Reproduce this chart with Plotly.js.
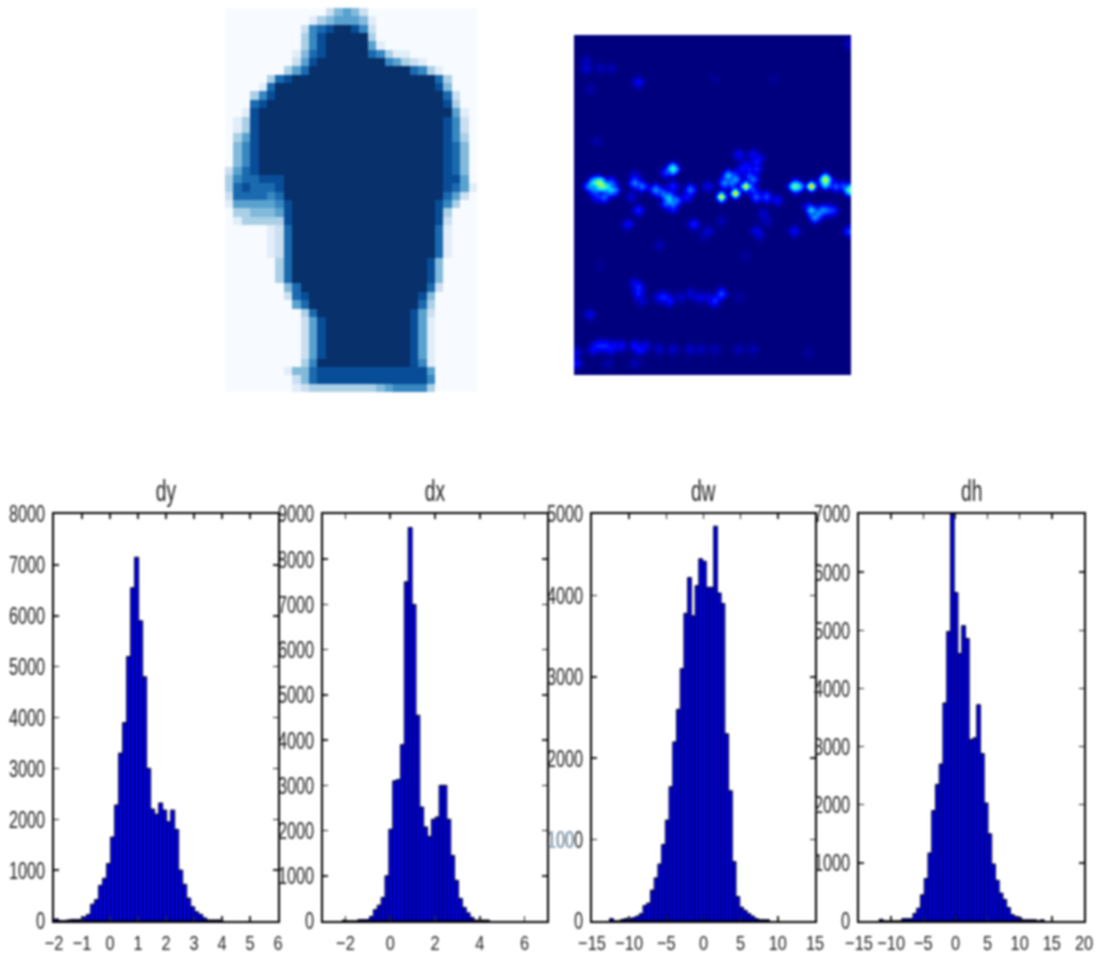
<!DOCTYPE html>
<html><head><meta charset="utf-8">
<script src="https://cdn.plot.ly/plotly-3.0.1.min.js"></script>
<style>html,body{margin:0;padding:0;background:#fff}#g{width:1099px;height:956px;filter:blur(0.8px)}</style>
</head><body><div id="g"></div>
<script>
// ---- silhouette image (Blues), one digit per cell, 0..9
const silhouetteRows = [
"000000000000245420000000000000",
"000000000013455541000000000000",
"000000000267899862000000000000",
"000000000368999993000000000000",
"000000000368999995100000000000",
"000000001478999997631100000000",
"000000002589999999965321000000",
"000000035799999999999976310000",
"000003789999999999999999973000",
"000017999999999999999999984000",
"000368999999999999999999997200",
"000789999999999999999999998300",
"001899999999999999999999999510",
"013899999999999999999999998620",
"013899999999999999999999998620",
"035899999999999999999999998630",
"046899999999999999999999998740",
"046899999999999999999999998740",
"046899999999999999999999998740",
"257899999999999999999999998740",
"367788899999999999999999998850",
"378777899999999999999999998751",
"277776799999999999999999997520",
"155555689999999999999999986300",
"033444589999999999999999983000",
"013333389999999999999999982000",
"000001279999999999999999971000",
"000001279999999999999999971000",
"000001279999999999999999971000",
"000001279999999999999999971000",
"000000379999999999999999840000",
"000000379999999999999999840000",
"000000379999999999999999840000",
"000000047999999999999999720000",
"000000027899999999999998400000",
"000000005799999999999997300000",
"000000000379999999999985200000",
"000000000258999999999985100000",
"000000000258999999999985100000",
"000000000258999999999985100000",
"000000000258999999999985100000",
"000000000258999999999985100000",
"000000000369999999999986100000",
"000000014478888888888888500000",
"000000002478888888888888600000",
"000000001233333333456666300000"
];
// ---- activation map (jet), sparse hot cells on an 80 x 98 grid
const mapCols = 80, mapRows = 98;
const spotCol = [7,5,8,10,11,4,8,6,10,17,19,17,18,15,16,23,26,28,27,26,25,28,33,32,34,38,28,38,
42,46,49,44,43,46,51,50,52,47,51,52,51,55,58,54,63,64,68,72,72,75,77,79,68,69,72,67,63,79,52,42,55,
18,18,19,25,27,33,36,40,42,4,6,8,11,17,19,24,28,33,36,40,47,51,0,0,17,9,47,
18,3,3,7,10,4,6,40,57,79,24,49,7,67,53,37,
6,7,9,9,6,5,27,28,29,26,46,45,48,49,52,50,53,70,73,74,71,
7,9,10,13,5,18,20,18,17,24,26,38,39,41,30,35];
const spotRow = [42,42,43,44,44,43,46,46,42,42,43,40,50,54,46,44,39,38,47,46,45,43,44,46,54,43,49,56,
46,45,43,40,42,40,41,40,36,34,34,46,44,46,47,51,43,43,43,41,42,43,43,44,50,52,50,49,56,56,56,53,53,
72,74,76,75,76,74,75,76,74,80,89,89,89,89,90,90,90,90,90,90,90,90,94,91,94,94,75,
13,9,7,9,9,15,30,12,12,2,60,63,66,91,57,57,
42,43,43,44,44,44,46,48,47,48,41,42,38,37,38,38,35,51,50,50,50,
89,89,90,89,90,90,89,73,71,75,75,75,76,75,75,75];
const spotVal = [.6,.42,.52,.38,.3,.3,.25,.15,.25,.28,.25,.1,.15,.12,.08,.3,.18,.5,.35,.3,.25,.15,.25,.14,.15,.1,.2,.08,
.8,.78,.8,.35,.3,.2,.25,.2,.15,.12,.12,.22,.2,.2,.12,.08,.5,.45,.82,.62,.5,.22,.2,.55,.35,.3,.25,.15,.12,.2,.1,.05,.06,
.16,.15,.08,.16,.14,.08,.1,.18,.2,.1,.15,.16,.13,.14,.12,.07,.07,.07,.06,.05,.05,.05,.13,.1,.05,.04,.03,
.12,.08,.06,.05,.05,.04,.04,.02,.02,.08,.05,.03,.02,.03,.08,.05,
.55,.5,.4,.3,.28,.25,.32,.28,.25,.22,.3,.28,.14,.13,.16,.14,.1,.3,.2,.18,.28,
.16,.15,.13,.13,.12,.13,.1,.14,.1,.12,.14,.09,.1,.12,.07,.08];
// ---- histograms
const dyStart = -1.98, dyWidth = 0.143;
const dyCounts = [40,5,5,20,30,30,30,80,130,330,420,700,840,1130,1650,2280,3300,3900,5200,6550,7150,5900,4800,3000,2200,2100,2320,2180,1950,2180,1800,1000,720,450,280,180,130,60,20,20,20,20];
const dxStart = -2.13, dxWidth = 0.1726;
const dxCounts = [20,0,0,0,30,30,30,100,250,350,520,1000,2030,3100,3130,3900,7500,8700,7000,4550,2520,2080,1870,2250,2300,3000,3000,2250,1450,900,500,300,180,80,20,20,20,20];
const dwStart = -12.63, dwWidth = 0.5;
const dwCounts = [30,0,0,20,30,30,40,60,90,190,220,380,530,700,940,1240,1650,2200,2600,3100,3780,4220,3750,4120,4450,4420,4100,4100,4850,4030,3900,2300,1600,730,300,170,130,90,60,30,15,15,15];
const dhStart = -11.85, dhWidth = 0.583;
const dhCounts = [30,0,0,0,0,0,40,40,40,130,220,450,730,1170,1900,2350,2700,3750,4980,7000,5650,4600,5080,4860,3120,3150,3720,2880,2030,1500,980,700,480,370,230,110,80,60,20,20,20,20,0,20];
const panelTitles = ["dy","dx","dw","dh"];
const dyTicksX = [-2,-1,0,1,2,3,4,5,6], dyTicksY = [0,1000,2000,3000,4000,5000,6000,7000,8000];
const dxTicksX = [-2,0,2,4,6], dxTicksY = [0,1000,2000,3000,4000,5000,6000,7000,8000,9000];
const dwTicksX = [-15,-10,-5,0,5,10,15], dwTicksY = [0,1000,2000,3000,4000,5000];
const dhTicksX = [-15,-10,-5,0,5,10,15,20], dhTicksY = [0,1000,2000,3000,4000,5000,6000,7000];

const W = 1099, H = 956;
const FONT = '"Liberation Sans",sans-serif';
const fx = p => p / W, fy = p => 1 - p / H;
const dom = (a, b) => [a / W, b / W], domY = (t, b) => [1 - b / H, 1 - t / H];

const silZ = silhouetteRows.map(r => r.split('').map(Number));
const mapZ = Array.from({length: mapRows}, () => new Array(mapCols).fill(0));
const spread = [[0,0,1],[0,1,.65],[0,-1,.65],[1,0,.65],[-1,0,.65],[1,1,.4],[1,-1,.4],[-1,1,.4],[-1,-1,.4],[0,2,.2],[0,-2,.2],[2,0,.2],[-2,0,.2]];
spotVal.forEach((v, i) => {
  spread.forEach(([dr, dc, k]) => {
    const r = spotRow[i] + dr, c = spotCol[i] + dc;
    const w = v > .65 && k < 1 ? k * k : k;   // the hottest cells are tighter dots in the reference
    if (r >= 0 && r < mapRows && c >= 0 && c < mapCols) mapZ[r][c] = Math.max(mapZ[r][c], v * w);
  });
});

const blues = [[0,'#f7fbff'],[.125,'#deebf7'],[.25,'#c6dbef'],[.375,'#9ecae1'],[.5,'#6baed6'],[.625,'#4292c6'],[.75,'#2171b5'],[.875,'#08519c'],[1,'#08306b']];
const jet = [[0,'#00007f'],[.11,'#0000ff'],[.35,'#00e0ff'],[.5,'#7dff7a'],[.64,'#ffff00'],[.89,'#ff1000'],[1,'#7f0000']];

const traces = [
 {type:'heatmap', z:silZ, xaxis:'x5', yaxis:'y5', colorscale:blues, zmin:0, zmax:9, showscale:false, hoverinfo:'skip'},
 {type:'heatmap', z:mapZ, xaxis:'x6', yaxis:'y6', colorscale:jet, zmin:0, zmax:1, zsmooth:'best', showscale:false, hoverinfo:'skip'}
];
const hists = [
 {c:dyCounts,s:dyStart,w:dyWidth,tx:dyTicksX,ty:dyTicksY,rx:[-2,6],ry:[0,8000],px:[54,278]},
 {c:dxCounts,s:dxStart,w:dxWidth,tx:dxTicksX,ty:dxTicksY,rx:[-3,7],ry:[0,9000],px:[323,547]},
 {c:dwCounts,s:dwStart,w:dwWidth,tx:dwTicksX,ty:dwTicksY,rx:[-15,15],ry:[0,5000],px:[592,815]},
 {c:dhCounts,s:dhStart,w:dhWidth,tx:dhTicksX,ty:dhTicksY,rx:[-15,20],ry:[0,7000],px:[859,1084]}
];
const layout = {width:W, height:H, margin:{l:0,r:0,t:0,b:0}, showlegend:false, paper_bgcolor:'#fff', plot_bgcolor:'#fff',
 font:{family:FONT, size:24, color:'#222'}, bargap:0, annotations:[],
 xaxis5:{domain:dom(225,477), visible:false, range:[-.5,29.5], anchor:'y5'},
 yaxis5:{domain:domY(8,392), visible:false, range:[45.5,-.5], anchor:'x5'},
 xaxis6:{domain:dom(574,851), visible:false, range:[-.5,79.5], anchor:'y6'},
 yaxis6:{domain:domY(35,375), visible:false, range:[97.5,-.5], anchor:'x6'}
};
hists.forEach((h, i) => {
  const n = i + 1, xk = n === 1 ? 'x' : 'x' + n, yk = n === 1 ? 'y' : 'y' + n;
  traces.push({type:'bar', xaxis:xk, yaxis:yk, x:h.c.map((_, k) => h.s + (k + .5) * h.w), y:h.c, width:h.w,
    marker:{color:'#0000ff', line:{color:'#000', width:1}}, hoverinfo:'skip'});
  const ax = {showgrid:false, zeroline:false, showline:true, linecolor:'#000', linewidth:2, mirror:'ticks', ticks:'inside',
    ticklen:5, tickwidth:1.5, tickcolor:'#222', tickmode:'array', automargin:false};
  layout['xaxis' + (n === 1 ? '' : n)] = Object.assign({}, ax, {domain:dom(h.px[0], h.px[1]), range:h.rx, tickvals:h.tx, tickangle:0, anchor:yk, ticklabelstandoff:2, tickfont:{size:21}});
  layout['yaxis' + (n === 1 ? '' : n)] = Object.assign({}, ax, {domain:domY(514, 921), range:h.ry, tickvals:h.ty, anchor:xk, ticklabelstandoff:2});
  layout.annotations.push({xref:'paper', yref:'paper', x:fx((h.px[0] + h.px[1]) / 2), y:fy(509), yanchor:'bottom', xanchor:'center',
    showarrow:false, text:panelTitles[i], font:{family:FONT, size:30, color:'#222'}});
});
// faint leftover label that sits under the dw "1000"
layout.annotations.push({xref:'paper', yref:'paper', x:fx(561), y:fy(839), xanchor:'center', yanchor:'middle', showarrow:false,
  text:'100', font:{family:FONT, size:24, color:'#9db8cf'}});
Plotly.newPlot('g', traces, layout, {staticPlot:true, displayModeBar:false}).then(gd => {
  gd.querySelectorAll('text').forEach(t => {
    const isTitle = t.classList.contains('annotation-text') && t.textContent !== '100';
    const isX = !!t.closest('.xaxislayer-above');
    const k = isTitle ? 0.64 : isX ? 0.78 : 0.68;
    t.setAttribute('textLength', (t.getComputedTextLength() * k).toFixed(1));
    t.setAttribute('lengthAdjust', 'spacingAndGlyphs');
  });
});
</script></body></html>
